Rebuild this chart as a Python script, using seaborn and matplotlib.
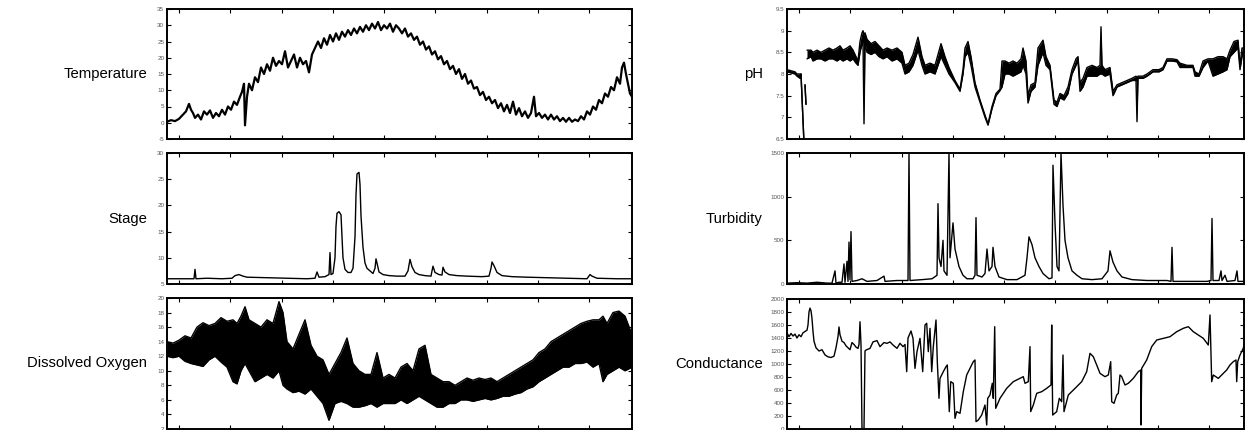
import numpy as np
import pandas as pd
import matplotlib
matplotlib.use("Agg")
import matplotlib.pyplot as plt
import seaborn as sns

sns.set_theme(style="white")
plt.rcParams['font.family'] = ['Liberation Sans', 'DejaVu Sans']

# ---------------- data (x = position along the record, left panels 0..465, right 0..457) ----
x_ticks = [12, 63, 115, 166, 217, 268, 320, 371, 422]

temp_x = [0, 4, 8, 12, 16, 19, 22, 24, 26, 28, 31, 34, 37, 40, 43, 46, 49, 52, 55, 58, 61, 64, 67, 70,
          73, 75, 77, 78, 80, 82, 85, 88, 91, 94, 97, 100, 103, 106, 109, 112, 115, 118, 121, 124, 127,
          130, 133, 136, 139, 142, 145, 148, 151, 154, 157, 160, 163, 166, 169, 172, 175, 178, 181, 184,
          187, 190, 193, 196, 199, 202, 205, 208, 211, 214, 217, 220, 223, 226, 229, 232, 235, 238, 241,
          244, 247, 250, 253, 256, 259, 262, 265, 268, 271, 274, 277, 280, 283, 286, 289, 292, 295, 298,
          301, 304, 307, 310, 313, 316, 319, 322, 325, 328, 331, 334, 337, 340, 343, 346, 349, 352, 355,
          358, 361, 364, 367, 369, 372, 375, 378, 381, 384, 387, 390, 393, 396, 399, 402, 405, 408, 411,
          414, 417, 420, 423, 426, 429, 432, 435, 438, 441, 444, 447, 450, 453, 455, 457, 459, 461, 463, 465]
temp_y = [0.3, 0.8, 0.5, 1.2, 2.5, 3.5, 5.8, 4, 3, 1.5, 2.5, 1, 3.5, 2.5, 3.8, 1.5, 3, 2, 4, 2.5, 5, 4, 6.5, 5.5,
          8, 9.5, 12, -0.8, 8, 12, 10, 14, 12.5, 17, 15, 18, 16, 20, 17.5, 19, 18, 22, 17, 19, 21,
          17, 20, 18, 19, 15.5, 21, 23, 25, 23, 26, 24, 27, 25, 27.5, 25.5, 28, 26.5, 28.5, 27,
          29, 27.5, 29.5, 28, 30, 28.5, 30.5, 29, 31, 28.5, 30, 29, 30.5, 28, 30, 29, 27.5, 29, 26.5,
          27.5, 25.5, 26.5, 24, 25, 22.5, 23.5, 21, 22, 19.5, 20.5, 18, 19, 16.5, 17.5, 15, 16.5, 13.5, 15,
          12, 13, 10.5, 11, 8.5, 9.5, 7, 8, 6, 7, 4.5, 6, 3.5, 5.5, 3, 6.5, 2.5, 4.5, 2,
          3.5, 1.5, 3, 8, 2, 3, 1.5, 2.5, 1, 2.5, 1, 2, 0.5, 1.5, 0.3, 1.5, 0.3, 1, 0.5,
          2, 1, 3.5, 2.5, 5, 4, 7, 6, 9, 8, 11, 10, 14, 12, 17, 18.5, 15, 12, 9, 8]

stage_x = [0, 20, 27, 28, 29, 40, 55, 65, 68, 72, 76, 80, 100, 120, 140, 148, 150, 152, 158, 162, 163, 164,
           166, 168, 169, 170, 172, 174, 175, 176, 178, 181, 184, 186, 188, 189, 190, 192, 193, 194, 196,
           198, 200, 203, 206, 208, 209, 210, 212, 216, 222, 230, 238, 241, 243, 245, 248, 252, 258, 264,
           265, 266, 268, 272, 275, 276, 278, 282, 290, 300, 315, 322, 324, 325, 327, 330, 335, 345, 360,
           380, 400, 420, 423, 425, 430, 450, 465]
stage_y = [6.0, 6.0, 6.0, 7.8, 6.0, 6.1, 6.0, 6.1, 6.6, 6.8, 6.5, 6.3, 6.2, 6.1, 6.0, 6.1, 7.3, 6.3, 6.4, 6.8, 11.0, 6.8,
           7.0, 10, 16, 18.5, 18.8, 18.2, 14, 10, 7.8, 7.2, 7.2, 8, 14, 22, 26.0, 26.3, 24, 18, 12,
           9, 8, 7.5, 7.0, 8, 9.8, 9, 7.3, 6.8, 6.6, 6.5, 6.5, 7.5, 9.7, 8.3, 7.2, 6.8, 6.6, 6.5,
           7.5, 8.4, 7.2, 6.8, 6.7, 8.2, 7.3, 6.8, 6.6, 6.5, 6.4, 6.5, 8, 9.2, 8.5, 7.2, 6.6, 6.4, 6.3,
           6.2, 6.1, 6.0, 6.8, 6.5, 6.1, 6.0, 6.0]

do_x = [0, 6, 12, 18, 24, 30, 36, 42, 48, 54, 60, 66, 70, 74, 78, 82, 88, 94, 100, 106, 112, 116, 120, 126,
        132, 138, 144, 150, 156, 162, 168, 174, 180, 186, 192, 198, 204, 210, 216, 222, 228, 234, 240, 246,
        252, 258, 264, 270, 276, 282, 288, 294, 300, 306, 312, 318, 324, 330, 336, 342, 348, 354, 360, 366,
        372, 378, 384, 390, 396, 402, 408, 414, 420, 426, 432, 436, 440, 446, 452, 458, 465]
do_lo = [12, 11.8, 12, 11.3, 11, 10.8, 10.6, 11.5, 12, 11.2, 10.5, 8.5, 8.2, 10, 11, 10, 8.5, 9, 9.5, 9, 10, 8, 7.5, 7,
         7.2, 6.8, 7.5, 6.5, 5.5, 3.2, 5.5, 5.8, 5.5, 5, 5, 5.2, 5.5, 5, 5.5, 5.5, 5.5, 6, 5.5, 6,
         6.5, 6, 5.5, 5, 5, 5.5, 5.5, 6, 6, 5.8, 6, 6.2, 6, 6.2, 6.5, 6.5, 6.8, 7, 7.5, 7.8,
         8.5, 9, 9.5, 10, 10.5, 10.5, 11, 11, 11.2, 10.5, 11, 8.5, 9.5, 10, 10.5, 10, 10.5]
do_hi = [14, 13.8, 14.2, 14.8, 14.5, 16, 16.6, 16.2, 16.5, 17.3, 16.8, 17, 16.5, 17.5, 18.8, 17, 16.5, 16, 17, 16.5, 19.5, 18, 14, 13,
         15, 17, 13.5, 12, 11.5, 9.5, 11, 12.5, 14.5, 11, 10, 9.5, 9.5, 12.5, 9, 9.5, 9, 10.5, 11, 10,
         13, 13.5, 9.5, 9, 8.5, 8.5, 8, 8.5, 9, 8.7, 9, 8.8, 9, 8.5, 9, 9.5, 10, 10.5, 11, 11.5,
         12.5, 13, 14, 14.5, 15, 15.5, 16, 16.5, 16.8, 17, 17, 17.5, 16.5, 18, 18.2, 17.5, 15]

ph_seg = [0] * 6 + [1] * 2 + [2] * 120
ph_x = [0, 8, 10, 13, 14, 17,
        18, 19,
        20, 24, 26, 30, 34, 38, 42, 46, 50, 53, 56, 60, 63, 66, 69, 71, 73, 75, 76, 77, 78, 80, 84, 88, 92,
        96, 100, 105, 110, 115, 118, 122, 126, 131, 135, 138, 143, 148, 154, 158, 162, 168, 173, 176, 178,
        181, 184, 188, 193, 198, 201, 205, 209, 213, 215, 218, 222, 226, 230, 234, 236, 239, 241, 244, 248,
        251, 256, 259, 263, 267, 270, 273, 277, 281, 285, 289, 291, 293, 296, 300, 305, 310, 313, 314, 315,
        318, 323, 326, 330, 335, 340, 345, 349, 350, 351, 356, 360, 366, 372, 376, 380, 385, 390, 393, 400,
        406, 408, 412, 416, 421, 426, 431, 436, 440, 443, 447, 451, 453, 455, 457]
ph_lo = [8.05, 8.0, 7.95, 7.9, 8.0, 6.4,
         7.75, 7.3,
         8.35, 8.4, 8.3, 8.35, 8.35, 8.3, 8.35, 8.35, 8.3, 8.35, 8.3, 8.35, 8.3, 8.35, 8.25, 8.2, 8.5, 8.7, 8.75, 6.85, 8.7, 8.5, 8.45, 8.5, 8.4,
         8.35, 8.4, 8.3, 8.35, 8.25, 8.0, 8.05, 8.2, 8.55, 8.2, 8.0, 8.05, 8.0, 8.4, 8.2, 8.0, 7.8, 7.6, 8.0, 8.4,
         8.5, 8.2, 7.7, 7.35, 7.0, 6.82, 7.2, 7.5, 7.62, 7.7, 8.0, 8.0, 7.95, 8.0, 8.05, 8.2, 8.0, 7.33, 7.6, 7.7,
         8.2, 8.5, 8.2, 8.1, 7.3, 7.25, 7.45, 7.4, 7.55, 8.0, 8.2, 8.3, 7.6, 7.7, 7.95, 7.95, 7.95, 8.0, 8.0, 8.0,
         7.95, 8.0, 7.5, 7.7, 7.75, 7.8, 7.85, 7.85, 6.9, 7.9, 7.9, 7.95, 8.05, 8.05, 8.1, 8.3, 8.3, 8.28, 8.15, 8.15,
         8.15, 7.95, 7.95, 8.15, 8.3, 7.95, 8.0, 8.05, 8.1, 8.4, 8.5, 8.6, 8.1, 8.4, 8.5]
ph_hi = [8.1, 8.05, 8.0, 8.0, 8.0, 6.4,
         7.75, 7.3,
         8.55, 8.55, 8.5, 8.55, 8.5, 8.55, 8.6, 8.55, 8.6, 8.65, 8.55, 8.6, 8.65, 8.55, 8.4, 8.3, 8.75, 8.95, 9.0, 8.9, 8.95, 8.8, 8.7, 8.75, 8.65,
         8.55, 8.6, 8.55, 8.6, 8.5, 8.2, 8.25, 8.45, 8.85, 8.4, 8.2, 8.25, 8.2, 8.7, 8.4, 8.15, 7.85, 7.65, 8.1, 8.6,
         8.75, 8.4, 7.8, 7.4, 7.05, 6.85, 7.25, 7.55, 7.65, 8.3, 8.3, 8.25, 8.3, 8.25, 8.35, 8.6, 8.3, 7.5, 7.75, 7.8,
         8.6, 8.78, 8.4, 8.2, 7.4, 7.35, 7.55, 7.5, 7.7, 8.1, 8.35, 8.4, 7.8, 7.9, 8.15, 8.2, 8.15, 8.2, 9.09, 8.2,
         8.1, 8.15, 7.6, 7.75, 7.8, 7.85, 7.9, 7.95, 7.9, 7.95, 7.95, 8.0, 8.1, 8.1, 8.15, 8.35, 8.35, 8.33, 8.25, 8.2,
         8.2, 8.05, 8.0, 8.3, 8.35, 8.35, 8.4, 8.4, 8.35, 8.55, 8.75, 8.78, 8.2, 8.6, 8.6]

turb_x = [0, 10, 20, 30, 40, 45, 48, 49, 52, 55, 57, 58, 60, 61, 62, 63, 64, 65, 70, 75, 80, 90, 97, 98, 110,
          121, 122, 123, 135, 145, 150, 151, 152, 154, 156, 157, 160, 162, 163, 166, 168, 172, 176, 180, 186,
          188, 189, 190, 195, 198, 200, 202, 205, 206, 208, 212, 220, 230, 238, 240, 242, 245, 248, 252, 256,
          262, 265, 266, 268, 270, 272, 274, 276, 278, 281, 285, 290, 295, 305, 315, 321, 323, 326, 330, 335,
          345, 360, 380, 384, 385, 386, 400, 420, 424, 425, 426, 432, 434, 435, 438, 440, 448, 450, 451, 457]
turb_y = [10, 15, 10, 20, 10, 10, 150, 10, 20, 20, 230, 20, 260, 30, 480, 50, 600, 30, 40, 60, 30, 40, 90, 30, 40,
          40, 1500, 40, 50, 60, 100, 920, 300, 200, 500, 150, 100, 1500, 300, 700, 400, 200, 100, 60, 60,
          100, 760, 100, 80, 120, 400, 150, 200, 420, 200, 80, 50, 50, 100, 300, 540, 450, 300, 200, 120,
          60, 70, 1360, 700, 200, 150, 1500, 900, 500, 300, 150, 100, 60, 50, 60, 150, 380, 250, 150, 80,
          50, 40, 40, 30, 420, 30, 30, 30, 40, 750, 40, 40, 150, 40, 100, 30, 40, 150, 30, 30]

cond_points = [
    (0, 1480), (2, 1420), (4, 1470), (6, 1430), (8, 1460), (10, 1400), (12, 1450), (14, 1420), (16, 1480),
    (18, 1500), (20, 1520), (21, 1600), (22, 1800), (23, 1860), (24, 1820), (25, 1700), (26, 1500), (27, 1350),
    (29, 1250), (32, 1200), (35, 1220), (38, 1140), (41, 1110), (44, 1100), (47, 1120), (49, 1250), (51, 1420),
    (52, 1570), (53, 1450), (55, 1350), (57, 1330), (59, 1280), (61, 1250), (63, 1220), (65, 1330), (67, 1300),
    (69, 1260), (71, 1240), (72, 1300), (73, 1650), (74, 1300), (75, 0), (77, 0), (78, 1200), (79, 1215),
    (83, 1240), (86, 1340), (90, 1360), (93, 1267), (97, 1330), (100, 1318), (103, 1340), (106, 1292),
    (110, 1241), (113, 1318), (116, 1267), (118, 1300), (119.7, 882), (121, 1400), (124, 1508), (126, 1395),
    (128, 933), (130, 1190), (133, 1395), (135.7, 882), (138, 1600), (139.7, 1626), (141.3, 1190), (143, 1549),
    (144.7, 882), (146.3, 1267), (149, 1677), (150.3, 1036), (152, 472), (153, 779), (156.3, 882), (159, 959),
    (160.3, 985), (162.3, 267), (163.7, 728), (166.3, 703), (168, 164), (169.7, 267), (173, 241), (176.3, 574),
    (179.7, 831), (183, 933), (186.3, 1036), (188, 1062), (189, 113), (191.3, 138), (194.7, 215), (198, 369),
    (199.7, 62), (200.7, 472), (203, 523), (205.3, 703), (206.3, 472), (207.7, 1574), (208.7, 318), (213, 472),
    (219.7, 626), (226.3, 728), (233, 779), (236.3, 805), (238, 703), (241.3, 728), (243, 1267), (243.7, 267),
    (246.3, 369), (249.7, 549), (254.7, 574), (259.7, 626), (264, 677), (264.7, 1600), (265.7, 215),
    (269.7, 267), (272.3, 472), (274.7, 420), (276, 1138), (277, 267), (281.3, 523), (284.7, 574), (289.7, 651),
    (294.7, 728), (299.7, 882), (303, 1164), (306.3, 1113), (309.7, 985), (313, 856), (318, 805), (321.3, 831),
    (323.7, 1036), (324.7, 420), (327, 395), (329.7, 523), (331.3, 549), (333, 831), (334.7, 805), (338, 677),
    (341.3, 703), (346.3, 779), (351.3, 882), (353.7, 908), (354, 62), (354.7, 933), (359.7, 1062),
    (364.7, 1267), (369.7, 1369), (376.3, 1395), (383, 1420), (389.7, 1497), (396.3, 1549), (401.3, 1574),
    (406.3, 1497), (411.3, 1446), (416.3, 1395), (421.3, 1292), (423, 1754), (424.7, 728), (426.3, 831),
    (431.3, 779), (436.3, 856), (439.7, 908), (443, 985), (446.3, 1036), (449, 1062), (449.7, 728),
    (450.7, 1036), (453, 1138), (456.3, 1241), (457, 1300),
]
cond_x = [p[0] for p in cond_points]
cond_y = [p[1] for p in cond_points]

# ---------------- layout ----------------
fig = plt.figure(figsize=(12.45, 4.30), dpi=100)
W, H = 1245.0, 430.0
def add_axes(px_left, px_right, px_top, px_bottom):
    return fig.add_axes([px_left / W, 1 - px_bottom / H, (px_right - px_left) / W, (px_bottom - px_top) / H])

ax_t = add_axes(167, 632, 9, 139)
ax_s = add_axes(167, 632, 153, 284)
ax_d = add_axes(167, 632, 298, 429)
ax_p = add_axes(787, 1244, 9, 139)
ax_u = add_axes(787, 1244, 153, 284)
ax_c = add_axes(787, 1244, 299, 429)

LW = 1.0
K = "black"

sns.lineplot(x=temp_x, y=temp_y, ax=ax_t, color=K, lw=1.6, sort=False, estimator=None)
sns.lineplot(x=stage_x, y=stage_y, ax=ax_s, color=K, lw=LW, sort=False, estimator=None)
ax_d.fill_between(do_x, do_lo, do_hi, color=K, lw=0)
sns.lineplot(x=do_x, y=do_lo, ax=ax_d, color=K, lw=LW, sort=False, estimator=None)
sns.lineplot(x=do_x, y=do_hi, ax=ax_d, color=K, lw=LW, sort=False, estimator=None)

ph_df = pd.DataFrame({"seg": ph_seg, "x": ph_x, "lo": ph_lo, "hi": ph_hi})
for seg, g in ph_df.groupby("seg"):
    ax_p.fill_between(g["x"], g["lo"], g["hi"], color=K, lw=0)
sns.lineplot(data=ph_df, x="x", y="lo", units="seg", estimator=None, sort=False, ax=ax_p, color=K, lw=LW)
sns.lineplot(data=ph_df, x="x", y="hi", units="seg", estimator=None, sort=False, ax=ax_p, color=K, lw=LW)

sns.lineplot(x=turb_x, y=turb_y, ax=ax_u, color=K, lw=LW, sort=False, estimator=None)
sns.lineplot(x=cond_x, y=cond_y, ax=ax_c, color=K, lw=LW, sort=False, estimator=None)

def style(ax, xmax, ylim, yticks, label, fmt, gap):
    ax.set_xlim(0, xmax)
    ax.set_ylim(*ylim)
    ax.set_xticks(x_ticks)
    ax.set_xticklabels([])
    ax.set_yticks(yticks)
    ax.set_yticklabels([fmt(v) for v in yticks])
    ax.set_xlabel("")
    ax.set_ylabel("")
    ax.tick_params(axis="both", which="major", direction="in", length=3, width=0.8, color=K,
                   top=True, right=True, bottom=True, left=True, labelsize=4.5, labelcolor="#555555", pad=2)
    for s in ax.spines.values():
        s.set_color(K)
        s.set_linewidth(1.4)
    ax.annotate(label, xy=(0, 0.5), xycoords="axes fraction", xytext=(-gap, 0), textcoords="offset pixels",
                ha="right", va="center", fontsize=10.7, color=K)

num = lambda v: ("%g" % v)
style(ax_t, 465, (-5, 35), list(range(-5, 36, 5)), "Temperature", num, 20)
style(ax_s, 465, (5, 30), list(range(5, 31, 5)), "Stage", num, 20)
style(ax_d, 465, (2, 20), list(range(2, 21, 2)), "Dissolved Oxygen", num, 20)
style(ax_p, 457, (6.5, 9.5), [6.5, 7, 7.5, 8, 8.5, 9, 9.5], "pH", num, 24)
style(ax_u, 457, (0, 1500), [0, 500, 1000, 1500], "Turbidity", num, 24)
style(ax_c, 457, (0, 2000), list(range(0, 2001, 200)), "Conductance", num, 24)

fig.savefig("out.png", dpi=100)
